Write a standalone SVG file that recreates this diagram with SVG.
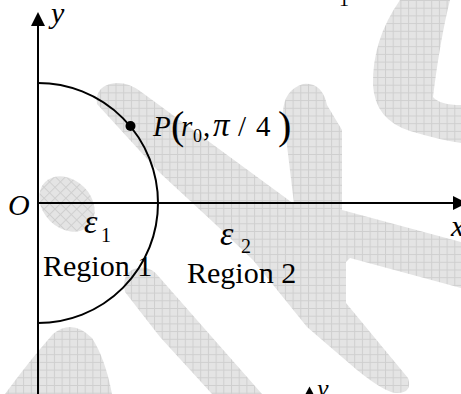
<svg xmlns="http://www.w3.org/2000/svg" width="461" height="394" viewBox="0 0 461 394">
<style>
.t{font-family:"Liberation Serif","Times New Roman",serif;fill:#000}
.i{font-style:italic}
.ax{stroke:#000;stroke-width:2;fill:none}
.wm{fill:url(#grid);stroke:none}
</style>
<defs>
<pattern id="grid" width="7.7" height="7.7" patternUnits="userSpaceOnUse">
<rect width="7.7" height="7.7" fill="#e4e4e4"/>
<path d="M0,0.5H7.7M0.5,0V7.7" stroke="#cfcfcf" stroke-width="1"/>
</pattern>
</defs>
<rect width="461" height="394" fill="#fff"/>
<g id="watermark">
<ellipse class="wm" cx="67" cy="204" rx="31" ry="24" transform="rotate(45 67 204)"/>
<path class="wm" d="M97,104 Q95,88 110,84 Q125,80 140,91 L294,204 L283,112 Q284,90 303,84 Q322,82 327,105 L342,130 L342,210 L461,242 L461,288 L350,258 L346,262 L346,303 L408,378 Q413,394 395,393 Q383,391 357,370 L307,327 L253,260 L213,222 L160,173 Z"/>
<path class="wm" d="M125,292 Q121,272 137,268 Q151,265 160,278 L262,394 L212,394 L160,337 Z"/>
<path class="wm" d="M5,394 Q30,360 53,334 Q72,318 92,338 Q105,358 112,394 Z"/>
<path class="wm" fill-rule="evenodd" d="M400,0 Q372,40 373,85 Q375,120 410,131 Q440,140 461,143 L461,0 Z M450,0 L461,0 L461,105 Q440,105 433,97 Q440,40 450,0 Z"/>
</g>
<g id="connectors">
<line class="ax" x1="38" y1="24" x2="38" y2="394"/>
<polygon points="38,12 31,26 45,26" fill="#000"/>
<line class="ax" x1="38" y1="203" x2="455" y2="203"/>
<polygon points="453,196 467,203 453,210" fill="#000"/>
<path class="ax" d="M38,83 A120,120 0 0 1 38,323"/>
</g>
<g id="point-P">
<circle cx="130.5" cy="126" r="5" fill="#000"/>
<text class="t" font-size="29"><tspan class="i" x="153" y="136">P</tspan><tspan x="171" y="139" font-size="40">(</tspan><tspan class="i" x="181" y="136">r</tspan><tspan x="193" y="142" font-size="18">0</tspan><tspan x="203" y="136">,</tspan><tspan class="i" x="213" y="136" font-size="33">π</tspan><tspan x="238" y="136">/</tspan><tspan x="256" y="136">4</tspan><tspan x="278" y="139" font-size="40">)</tspan></text>
</g>
<g id="labels">
<text class="t i" x="51" y="23" font-size="30">y</text>
<text class="t i" x="8" y="215" font-size="30">O</text>
<text class="t i" x="451" y="236" font-size="30">x</text>
<text class="t" x="339" y="6" font-size="20">1</text>
<polygon points="305,395 309.5,386.5 314,395" fill="#000"/>
<text class="t i" x="317" y="397" font-size="26">y</text>
</g>
<g id="region1">
<text class="t" font-size="34"><tspan class="i" x="84" y="233">ε</tspan><tspan x="101" y="242" font-size="20">1</tspan></text>
<text class="t" x="43" y="276" font-size="30">Region 1</text>
</g>
<g id="region2">
<text class="t" font-size="34"><tspan class="i" x="220" y="245">ε</tspan><tspan x="241" y="253" font-size="20">2</tspan></text>
<text class="t" x="187" y="283" font-size="30">Region 2</text>
</g>
</svg>
